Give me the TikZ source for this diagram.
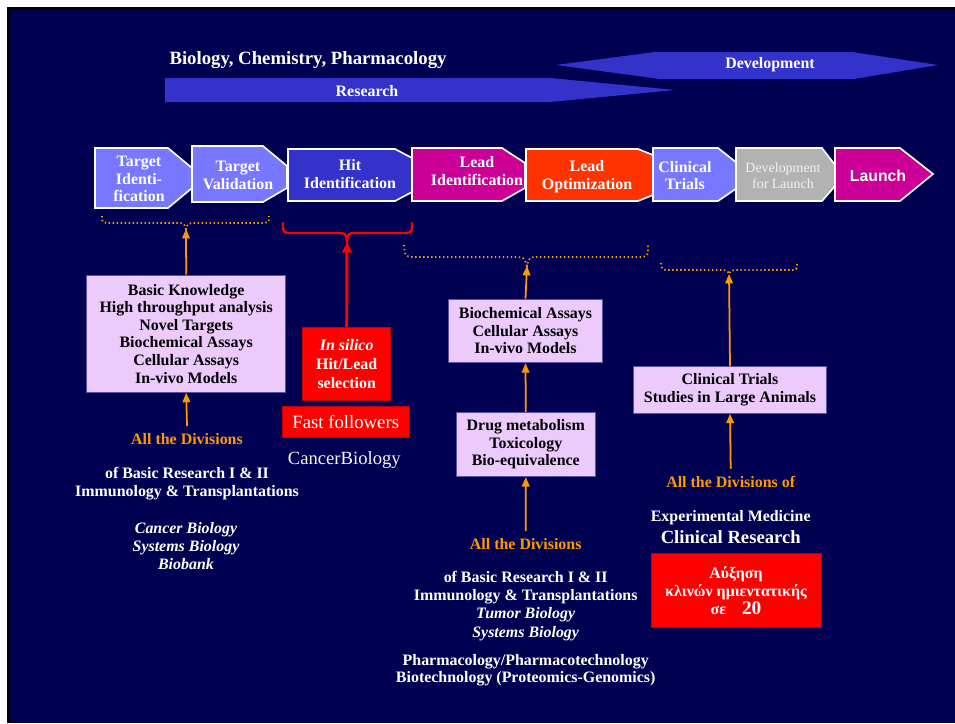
\documentclass[tikz,border=0pt]{standalone}
\usepackage{fontspec}
\setmainfont{Liberation Serif}
\newfontfamily\launchfont{Liberation Sans}
\usetikzlibrary{arrows.meta,positioning}
\definecolor{navy}{RGB}{0,0,82}
\definecolor{periw}{RGB}{119,119,255}
\definecolor{hitblue}{RGB}{51,51,204}
\definecolor{leadmag}{RGB}{204,0,153}
\definecolor{leadorange}{RGB}{255,51,0}
\definecolor{devgray}{RGB}{178,178,178}
\definecolor{lilac}{RGB}{236,202,252}
\definecolor{lilacedge}{RGB}{90,80,170}
\definecolor{divorange}{RGB}{255,153,0}
\tikzset{
  chev/.style={draw=white, line width=1.4pt, line join=miter},
  chevtext/.style={text=white, font=\bfseries\fontsize{13.6}{14.8}\selectfont, align=center, inner sep=0pt},
  stagebox/.style={draw=lilacedge, line width=0.8pt, fill=lilac, inner sep=0pt, align=center,
    font=\bfseries\fontsize{13.6}{15}\selectfont},
  redbox/.style={fill=red, draw=red!75!black, line width=0.6pt, inner sep=0pt, align=center, text=white},
  wtext/.style={text=white, align=center, inner sep=0pt, font=\bfseries\fontsize{13.6}{15.5}\selectfont},
  otext/.style={text=divorange, inner sep=0pt, font=\bfseries\fontsize{13.6}{15}\selectfont},
  uparrow/.style={draw=divorange, line width=1.5pt, -{Triangle[length=8pt,width=6.5pt]}},
  redarrow/.style={draw=red, line width=2.5pt, -{Triangle[length=9pt,width=8pt]}},
  dotbrace/.style={draw=divorange, line width=1.5pt, dash pattern=on 1.2pt off 2.2pt},
}
\begin{document}
\begin{tikzpicture}[x=0.03cm,y=-0.03cm]
\useasboundingbox (0,0) rectangle (955,723);
% slide
\fill[white] (0,0) rectangle (955,723);
\fill[black] (7,7) rectangle (955,723);
\fill[navy] (9.5,9.5) rectangle (955,723);

% research / development banners
\node[text=white, inner sep=0pt, font=\bfseries\fontsize{16}{18}\selectfont] (bcp) at (308,60) {Biology, Chemistry, Pharmacology};
\fill[hitblue] (556,65) -- (655,52) -- (852,52) -- (938,65) -- (854,79) -- (660,79) -- cycle;
\fill[hitblue] (165,78) -- (550,78) -- (675,90) -- (550,102) -- (165,102) -- cycle;
\node[text=white, inner sep=0pt, font=\bfseries\fontsize{13.6}{15}\selectfont] (res) at (367,91) {Research};
\node[text=white, inner sep=0pt, font=\bfseries\fontsize{13.6}{15}\selectfont] (dev) at (770,65) {Development};

% pipeline chevrons
\foreach \l/\b/\t/\ya/\yb/\top/\bot/\col in {95/168/192/168/188/148/208/periw,
    192/263/287/166/188/146/202/periw, 288/395/412/158/192/149/201/hitblue,
    412/502/525/163/188/148/201/leadmag, 526/638/653/155/195/149/201/leadorange,
    653/718/737/163/188/148/201/periw, 736/822/835/165/186/148/201/devgray,
    835/900/933/174/174/148/201/leadmag}
  \draw[chev, fill=\col] (\l,\top) -- (\b,\top) -- (\t,\ya) -- (\t,\yb) -- (\b,\bot) -- (\l,\bot) -- cycle;
\node[chevtext] (tid) at (139,179) {Target\\Identi-\\fication};
\node[chevtext] (tval) at (238,175.5) {Target\\Validation};
\node[chevtext] (hit) at (350,174) {Hit\\Identification};
\node[chevtext] (lid) at (477,171) {Lead\\Identification};
\node[chevtext] (lopt) at (587,176.7) {Lead\\Optimization};
\node[chevtext] (ctr) at (685,175.5) {Clinical\\Trials};
\node[chevtext, text=white!90!gray, font=\fontsize{11.9}{13.6}\selectfont] (dfl) at (783,175.3) {Development\\for Launch};
\node[chevtext, font=\launchfont\bfseries\fontsize{13.5}{14}\selectfont] (lau) at (878,176) {Launch};

% braces
\coordinate (b1) at (186,229);
\coordinate (b2) at (347,242);
\coordinate (b3) at (527,266);
\coordinate (b4) at (729,274);
\draw[dotbrace] (102,216) .. controls (102,223) .. (112,223) -- (176,223)
  .. controls (184,223) .. (b1) .. controls (188,223) .. (196,223) -- (259,223) .. controls (269,223) .. (269,216);
\draw[red, line width=2pt, line cap=round] (283,223) .. controls (283,233) .. (293,233) -- (337,233)
  .. controls (346,233) .. (b2) .. controls (348,233) .. (357,233) -- (402,233) .. controls (412,233) .. (412,223);
\draw[dotbrace] (404,245) .. controls (405,257) .. (418,257) -- (512,257)
  .. controls (524,257) .. (b3) .. controls (529,257) .. (541,257) -- (636,257) .. controls (648,257) .. (648,245);
\draw[dotbrace] (661,263) .. controls (662,270) .. (670,270) -- (718,270)
  .. controls (727,270) .. (b4) .. controls (731,270) .. (740,270) -- (789,270) .. controls (797,270) .. (797,263);

% target column
\node[stagebox, minimum width=5.97cm, minimum height=3.52cm] (know) at (186.2,333.7)
  {Basic Knowledge\\High throughput analysis\\Novel Targets\\Biochemical Assays\\Cellular Assays\\In-vivo Models};
\node[otext] (all1) at (187,439) {All the Divisions};
\node[wtext] (basic1) at (187,483.5) {of Basic Research I \& II\\Immunology \& Transplantations};
\node[wtext, font=\bfseries\itshape\fontsize{13.6}{15.5}\selectfont] (grp1) at (186,546) {Cancer Biology\\Systems Biology\\Biobank};
\draw[uparrow] ([yshift=6pt]all1.north) -- (know.south);
\draw[uparrow] (know.north) -- (b1);

% hit column
\node[redbox, minimum width=2.64cm, minimum height=2.2cm, font=\bfseries\fontsize{13.6}{16}\selectfont] (silico) at (346.7,364)
  {\textit{In silico}\\Hit/Lead\\selection};
\node[redbox, minimum width=3.8cm, minimum height=0.93cm, font=\fontsize{16}{17}\selectfont] (fast) at (345.7,422.2) {Fast followers};
\node[text=white!92!gray, inner sep=0pt, font=\fontsize{15.9}{17}\selectfont] (cbio) at (344.3,460) {CancerBiology};
\draw[redarrow] (silico.north) -- (b2);

% lead column
\node[stagebox, minimum width=4.63cm, minimum height=1.91cm] (assay) at (525.5,330.9)
  {Biochemical Assays\\Cellular Assays\\In-vivo Models};
\node[stagebox, minimum width=4.15cm, minimum height=1.93cm] (tox) at (525.8,444.5)
  {Drug metabolism\\Toxicology\\Bio-equivalence};
\node[otext] (all2) at (525.7,544) {All the Divisions};
\node[wtext] (basic2) at (525.7,606)
  {of Basic Research I \& II\\Immunology \& Transplantations\\\textit{Tumor Biology}\\\textit{Systems Biology}};
\node[wtext, font=\bfseries\fontsize{13.6}{14.2}\selectfont] (pharm) at (525.7,670)
  {Pharmacology/Pharmacotechnology\\Biotechnology (Proteomics-Genomics)};
\draw[uparrow] ([yshift=6pt]all2.north) -- (tox.south);
\draw[uparrow] (tox.north) -- (assay.south);
\draw[uparrow] (assay.north) -- (b3);

% clinical column
\node[stagebox, minimum width=5.8cm, minimum height=1.4cm] (trials) at (730,390)
  {Clinical Trials\\Studies in Large Animals};
\node[otext] (all3) at (730.7,481.7) {All the Divisions of};
\node[wtext] (expmed) at (730.7,517.7) {Experimental Medicine};
\node[wtext, font=\bfseries\fontsize{15.9}{17}\selectfont] (clinres) at (730.7,536.7) {Clinical Research};
\node[redbox, minimum width=5.1cm, minimum height=2.23cm, font=\bfseries\fontsize{13.6}{15.5}\selectfont] (beds) at (736,590.5)
  {Αύξηση\\κλινών ημιεντατικής\\σε\quad{\fontsize{16.5}{16.5}\selectfont 20}};
\draw[uparrow] ([yshift=6pt]all3.north) -- (trials.south);
\draw[uparrow] (trials.north) -- (b4);
\end{tikzpicture}
\end{document}
